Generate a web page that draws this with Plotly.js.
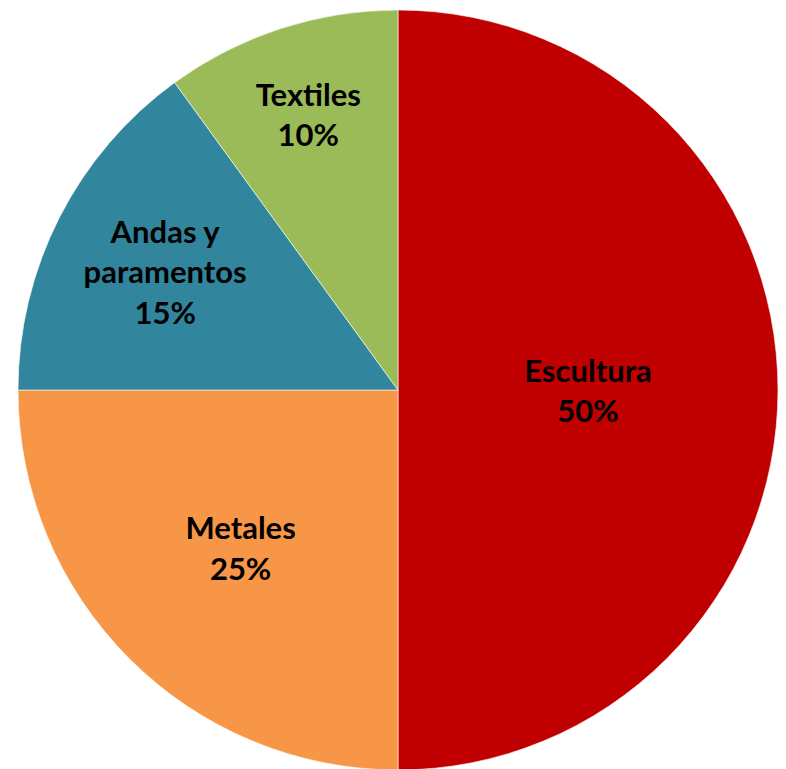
<!DOCTYPE html>
<html>
<head>
<meta charset="utf-8">
<script src="https://cdn.plot.ly/plotly-3.0.1.min.js"></script>
<style>
html,body{margin:0;padding:0;overflow:hidden;background:#fff;}
#chart{width:786px;height:780px;}
</style>
</head>
<body>
<div id="chart"></div>
<script>
const categories = ['Escultura', 'Metales', 'Andas y paramentos', 'Textiles'];
const shares = [50, 25, 15, 10];
const sliceColors = ['#C00000', '#F79646', '#31859C', '#9BBB59'];
const displayLabels = ['Escultura', 'Metales', 'Andas y<br>paramentos', 'Textiles'];

const W = 786, H = 780;
const trace = {
  type: 'pie',
  labels: categories,
  values: shares,
  text: displayLabels,
  sort: false,
  direction: 'clockwise',
  rotation: 0,
  texttemplate: '%{text}<br>%{percent:.0%}',
  textposition: 'inside',
  insidetextorientation: 'horizontal',
  insidetextfont: {family: 'Lato, "Open Sans", sans-serif', size: 31, color: '#000', weight: 'bold'},
  marker: {colors: sliceColors, line: {color: 'rgba(255,255,255,0.6)', width: 1}},
  hoverinfo: 'label+percent',
  domain: {x: [18 / W, 778 / W], y: [1 - 770 / H, 1 - 10 / H]},
  showlegend: false
};
Plotly.newPlot('chart', [trace], {
  width: W, height: H,
  margin: {l: 0, r: 0, t: 0, b: 0},
  paper_bgcolor: '#fff',
  showlegend: false
}, {staticPlot: true});
</script>
</body>
</html>
